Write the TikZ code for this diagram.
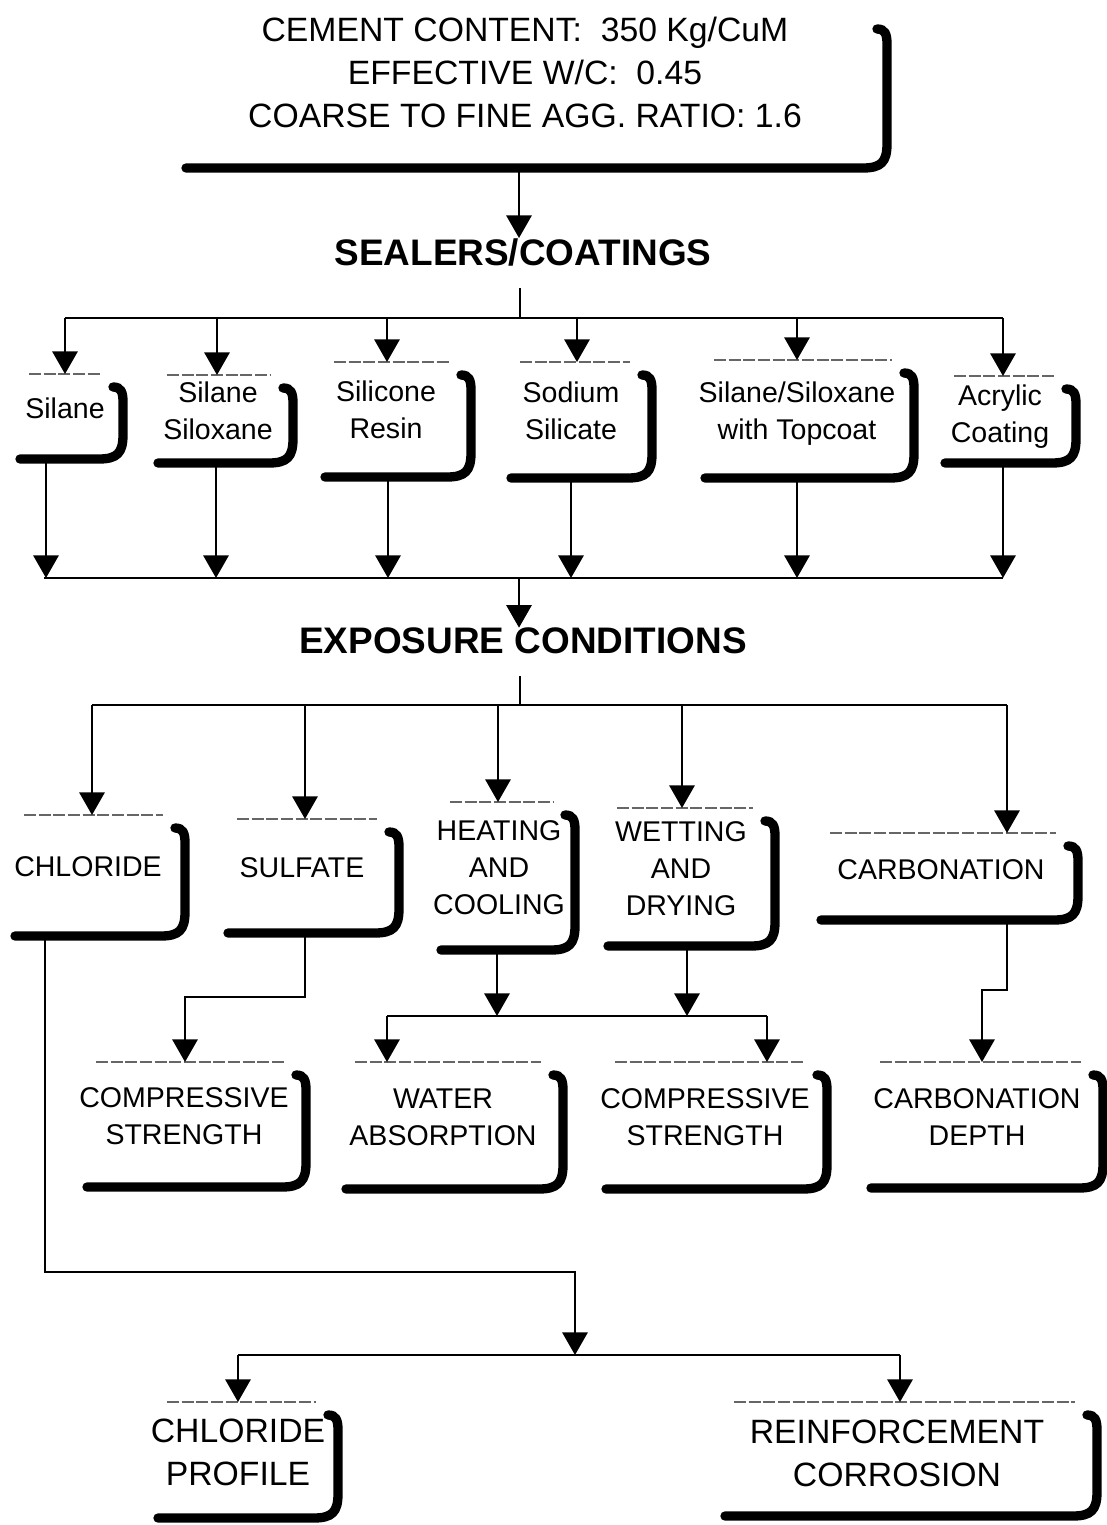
\documentclass[tikz,border=0pt]{standalone}
\usepackage{fontspec}
\setmainfont{Liberation Sans}
\usetikzlibrary{arrows.meta,calc}
\tikzset{
 boxn/.style={rectangle, inner sep=0pt, outer sep=0pt, draw=none},
 txt/.style={align=center, inner sep=0pt, font=\fontsize{21.4}{27.75}\selectfont},
 txtL/.style={align=center, inner sep=0pt, font=\fontsize{25.3}{32.25}\selectfont},
 head/.style={inner sep=0pt, font=\bfseries\fontsize{27.7}{33}\selectfont},
 topln/.style={line width=0.9pt, black!60, dash pattern=on 9pt off 2pt},
 shadowln/.style={line width=7pt, line cap=round, black},
 ln/.style={line width=1.6pt},
 arr/.style={line width=1.6pt, -{Triangle[width=19pt,length=17pt]}},
}
\newcommand\mkbox[5]{\node[boxn, minimum width={(#4-#2)*0.75pt}, minimum height={(#5-#3)*0.75pt}] (#1) at ({(#2+#4)/2},{(#3+#5)/2}) {};}
\newcommand\topl[1]{\draw[topln] ($(#1.north west)+(12,0)$) -- ($(#1.north east)+(-22,0)$);}
\newcommand\shad[1]{\draw[shadowln] ($(#1.north east)+(-10,13)$) .. controls ($(#1.north east)+(-2,13)$) and ($(#1.north east)+(0,18)$) .. ($(#1.north east)+(0,28)$) -- ($(#1.south east)+(0,-24)$) .. controls ($(#1.south east)+(0,-6)$) and ($(#1.south east)+(-6,0)$) .. ($(#1.south east)+(-24,0)$) -- ($(#1.south west)+(3,0)$);}
\begin{document}
\begin{tikzpicture}[x=0.75pt,y=-0.75pt]
\fill[white] (0,0) rectangle (1107,1525);
\useasboundingbox (0,0) rectangle (1107,1525);

% ---------- boxes ----------
\mkbox{top}{183}{16}{887}{168}
\mkbox{silane}{17}{374}{123}{459}
\mkbox{silsil}{155}{375}{293}{463}
\mkbox{silicone}{322}{362}{471}{477}
\mkbox{sodium}{508}{362}{652}{478}
\mkbox{sstop}{702}{360}{914}{478}
\mkbox{acrylic}{942}{376}{1076}{463}
\mkbox{chloride}{12}{815}{185}{936}
\mkbox{sulfate}{225}{819}{399}{933}
\mkbox{heating}{438}{802}{575}{950}
\mkbox{wetting}{605}{808}{775}{946}
\mkbox{carb}{818}{833}{1078}{920}
\mkbox{csa}{84}{1062}{306}{1187}
\mkbox{water}{343}{1062}{563}{1189}
\mkbox{csb}{603}{1062}{827}{1189}
\mkbox{cdepth}{868}{1062}{1103}{1188}
\mkbox{cprof}{155}{1402}{338}{1518}
\mkbox{rcorr}{722}{1402}{1097}{1516}

\shad{top}
\foreach \b in {silane,silsil,silicone,sodium,sstop,acrylic,chloride,sulfate,heating,wetting,carb,csa,water,csb,cdepth,cprof,rcorr}{\topl{\b}\shad{\b}}

% ---------- texts ----------
\node[txtL] (t-top) at (525,76) {\strut CEMENT CONTENT:\ \ 350 Kg/CuM\\\strut EFFECTIVE W/C:\ \ 0.45\\\strut COARSE TO FINE AGG. RATIO: 1.6};
\node[head] (h1) at (523,252) {SEALERS/COATINGS};
\node[head] (h2) at (523,641) {EXPOSURE CONDITIONS};
\node[txt] (t-silane) at (65,411) {\strut Silane};
\node[txt] (t-silsil) at (218,414) {\strut Silane\\\strut Siloxane};
\node[txt] (t-silicone) at (386,413) {\strut Silicone\\\strut Resin};
\node[txt] (t-sodium) at (571,414) {\strut Sodium\\\strut Silicate};
\node[txt] (t-sstop) at (797,414) {\strut Silane/Siloxane\\\strut with Topcoat};
\node[txt] (t-acrylic) at (1000,417) {\strut Acrylic\\\strut Coating};
\node[txt] (t-chloride) at (88,869) {\strut CHLORIDE};
\node[txt] (t-sulfate) at (302,870) {\strut SULFATE};
\node[txt] (t-heating) at (499,870) {\strut HEATING\\\strut AND\\\strut COOLING};
\node[txt] (t-wetting) at (681,871) {\strut WETTING\\\strut AND\\\strut DRYING};
\node[txt] (t-carb) at (941,872) {\strut CARBONATION};
\node[txt] (t-csa) at (184,1119) {\strut COMPRESSIVE\\\strut STRENGTH};
\node[txt] (t-water) at (443,1120) {\strut WATER\\\strut ABSORPTION};
\node[txt] (t-csb) at (705,1120) {\strut COMPRESSIVE\\\strut STRENGTH};
\node[txt] (t-cdepth) at (977,1120) {\strut CARBONATION\\\strut DEPTH};
\node[txtL] (t-cprof) at (238,1455) {\strut CHLORIDE\\\strut PROFILE};
\node[txtL] (t-rcorr) at (897,1456) {\strut REINFORCEMENT\\\strut CORROSION};

% ---------- connectors ----------
\coordinate (b1w) at (65,318); \coordinate (b1e) at (1003,318); \coordinate (b1c) at (520,318);
\coordinate (b2w) at (44,578); \coordinate (b2e) at (1003,578); \coordinate (b2c) at (519,578);
\coordinate (b3w) at (92,705); \coordinate (b3e) at (1007,705); \coordinate (b3c) at (520,705);
\coordinate (b4w) at (387,1016); \coordinate (b4e) at (767,1016);
\coordinate (b5w) at (238,1355); \coordinate (b5e) at (900,1355);

\draw[arr] (519,0 |- top.south) -- (519,0 |- h1.north);
\draw[ln] (520,0 |- h1.south) ++(0,22) -- (b1c);
\draw[ln] (b1w) -- (b1e);
\foreach \x/\n in {65/silane,217/silsil,387/silicone,577/sodium,797/sstop,1003/acrylic}
  {\draw[arr] (\x,318) -- (\x,0 |- \n.north);}
\foreach \x/\n in {46/silane,216/silsil,388/silicone,571/sodium,797/sstop,1003/acrylic}
  {\draw[arr] (\x,0 |- \n.south) -- (\x,578);}
\draw[ln] (b2w) -- (b2e);
\draw[arr] (b2c) -- (519,0 |- h2.north);
\draw[ln] (520,0 |- h2.south) ++(0,22) -- (b3c);
\draw[ln] (b3w) -- (b3e);
\foreach \x/\n in {92/chloride,305/sulfate,498/heating,682/wetting,1007/carb}
  {\draw[arr] (\x,705) -- (\x,0 |- \n.north);}
\draw[arr] (305,0 |- sulfate.south) |- (185,997) -- (185,0 |- csa.north);
\draw[arr] (497,0 |- heating.south) -- (497,1016);
\draw[arr] (687,0 |- wetting.south) -- (687,1016);
\draw[ln] (b4w) -- (b4e);
\draw[arr] (b4w) -- (387,0 |- water.north);
\draw[arr] (b4e) -- (767,0 |- csb.north);
\draw[arr] (1007,0 |- carb.south) |- (982,990) -- (982,0 |- cdepth.north);
\draw[arr] (45,0 |- chloride.south) |- (575,1272) -- (575,1355);
\draw[ln] (b5w) -- (b5e);
\draw[arr] (b5w) -- (238,0 |- cprof.north);
\draw[arr] (b5e) -- (900,0 |- rcorr.north);
\end{tikzpicture}
\end{document}
